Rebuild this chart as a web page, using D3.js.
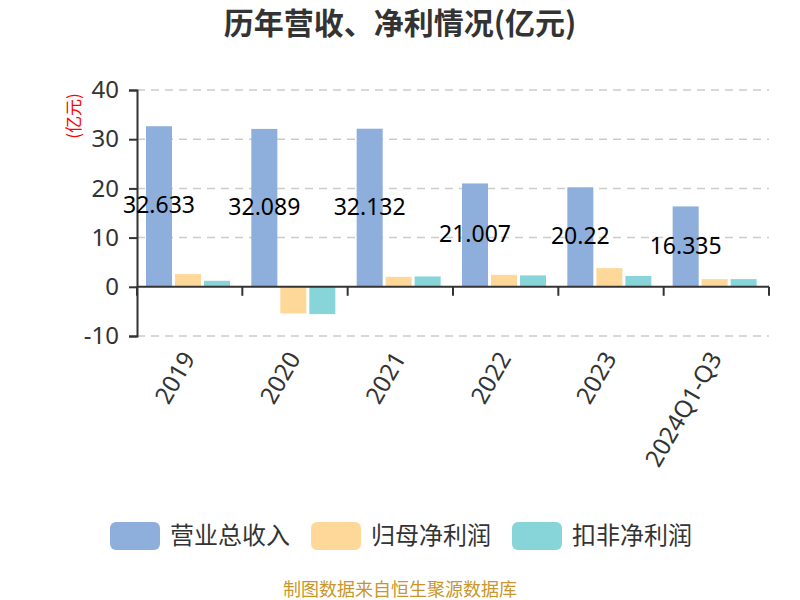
<!DOCTYPE html>
<html><head><meta charset="utf-8">
<script src="https://cdn.jsdelivr.net/npm/d3@7"></script>
<style>body{margin:0;background:#fff}svg{display:block;font-family:"Noto Sans CJK SC","Noto Sans",sans-serif}</style>
</head><body>
<svg id="c" width="800" height="600"></svg>
<script>
const categories = ["2019","2020","2021","2022","2023","2024Q1-Q3"];
const seriesNames = ["营业总收入","归母净利润","扣非净利润"];
const revenue = [32.633, 32.089, 32.132, 21.007, 20.22, 16.335];
const netProfit = [2.58, -5.42, 2.03, 2.44, 3.8, 1.56];
const deductedProfit = [1.22, -5.55, 2.1, 2.32, 2.2, 1.56];
const yTicks = [-10, 0, 10, 20, 30, 40];
const colors = ["#8eaedb", "#fed899", "#88d5d9"];
const seriesValues = [revenue, netProfit, deductedProfit];

const svg = d3.select("#c");
const plotL = 137, plotR = 769, plotT = 90, plotB = 336;
const latin = '"Noto Sans","Noto Sans CJK SC",sans-serif';
const x = d3.scaleBand().domain(categories).range([plotL, plotR]);
const y = d3.scaleLinear().domain([-10, 40]).range([plotB, plotT]);
const inner = d3.scaleBand().domain(seriesNames).range([9, 93]).paddingInner(3/29);

// title
svg.append("text").attr("x", 400).attr("y", 34).attr("text-anchor", "middle")
  .attr("font-size", 30).attr("font-weight", "bold").attr("fill", "#333").text("历年营收、净利情况(亿元)");

// grid
svg.append("g").selectAll("line").data(yTicks.filter(d => d !== 0)).join("line")
  .attr("x1", plotL).attr("x2", plotR).attr("y1", d => y(d)).attr("y2", d => y(d))
  .attr("stroke", "#ccc").attr("stroke-width", 1.5).attr("stroke-dasharray", "8,6");

// bars
seriesNames.forEach((s, i) => {
  svg.append("g").selectAll("rect").data(categories).join("rect")
    .attr("x", c => x(c) + inner(s))
    .attr("width", inner.bandwidth())
    .attr("y", (c, j) => y(Math.max(0, seriesValues[i][j])))
    .attr("height", (c, j) => Math.abs(y(seriesValues[i][j]) - y(0)))
    .attr("fill", colors[i]);
});

// y axis
const yAxis = svg.append("g").attr("transform", `translate(${plotL},0)`)
  .call(d3.axisLeft(y).tickValues(yTicks).tickSize(8).tickPadding(10).tickFormat(d => String(d)));
yAxis.select(".domain").attr("stroke", "#333").attr("stroke-width", 2);
yAxis.selectAll(".tick line").attr("stroke", "#333").attr("stroke-width", 2);
yAxis.selectAll(".tick text").attr("font-size", 24).attr("fill", "#333")
  .attr("font-family", latin);

// x axis at zero
const xg = svg.append("g").attr("transform", `translate(0,${y(0)})`);
xg.append("line").attr("x1", plotL).attr("x2", plotR).attr("stroke", "#333").attr("stroke-width", 2);
const bounds = categories.map(c => x(c)).concat([x(categories[categories.length-1]) + x.bandwidth()]);
xg.selectAll("line.t").data(bounds).join("line").attr("class", "t")
  .attr("x1", d => d).attr("x2", d => d).attr("y1", 0).attr("y2", 9)
  .attr("stroke", "#333").attr("stroke-width", 2);

// x labels
svg.append("g").selectAll("text").data(categories).join("text")
  .attr("transform", c => `translate(${x(c) + x.bandwidth()/2 - 1},${plotB + 18}) rotate(-60)`)
  .attr("text-anchor", "end").attr("dy", "0.35em")
  .attr("font-size", 24).attr("fill", "#333")
  .attr("font-family", latin)
  .text(c => c);

// data labels for revenue
svg.append("g").selectAll("text").data(categories).join("text")
  .attr("x", c => x(c) + inner(seriesNames[0]) + inner.bandwidth()/2)
  .attr("y", (c, j) => (y(revenue[j]) + y(0)) / 2)
  .attr("dy", "0.3em").attr("text-anchor", "middle")
  .attr("font-size", 23).attr("fill", "#000")
  .attr("font-family", latin)
  .text((c, j) => revenue[j]);

// unit label
svg.append("text").attr("transform", "translate(74,116) rotate(-90)")
  .attr("text-anchor", "middle").attr("dy", "0.35em").attr("font-size", 17).attr("fill", "#f00").text("(亿元)");

// legend
const legX = [110, 311, 512];
const lg = svg.append("g").selectAll("g").data(seriesNames).join("g")
  .attr("transform", (d, i) => `translate(${legX[i]},522)`);
lg.append("rect").attr("width", 50).attr("height", 28).attr("rx", 6).attr("fill", (d, i) => colors[i]);
lg.append("text").attr("x", 60).attr("y", 14).attr("dy", "0.35em")
  .attr("font-size", 24).attr("fill", "#333").text(d => d);

// footer
svg.append("text").attr("x", 400).attr("y", 590).attr("dy", "0.35em").attr("text-anchor", "middle")
  .attr("font-size", 18).attr("fill", "#c9962c").text("制图数据来自恒生聚源数据库");
</script>
</body></html>
